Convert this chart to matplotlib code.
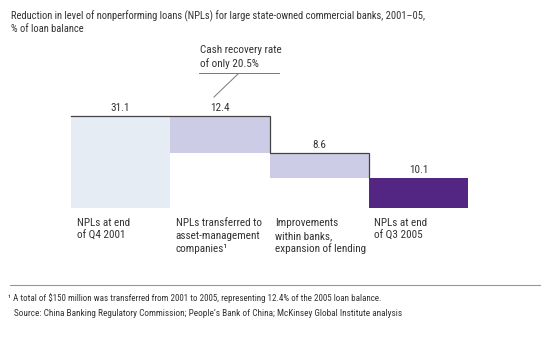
import numpy as np
import matplotlib
matplotlib.use("Agg")
import matplotlib.pyplot as plt
from matplotlib.lines import Line2D
from matplotlib import font_manager as fm

_have = {f.name for f in fm.fontManager.ttflist}
_want = ["Roboto Condensed", "IBM Plex Sans Condensed", "Archivo Narrow",
         "Liberation Sans Narrow", "Encode Sans Condensed", "Pragati Narrow"]
plt.rcParams["font.family"] = [f for f in _want if f in _have][:1] + ["DejaVu Sans"]

# data
categories = ["NPLs at end\nof Q4 2001",
              "NPLs transferred to\nasset-management\ncompanies\u00b9",
              "Improvements\nwithin banks,\nexpansion of lending",
              "NPLs at end\nof Q3 2005"]
values = [31.1, 12.4, 8.6, 10.1]
kinds = ["total", "drop", "drop", "total"]

BAR_CLRS = ["#e6ecf4", "#cccce6", "#cccce6", "#542683"]
TEXT_CLR = "#333333"
LINE_CLR = "#444444"

W, H = 545, 352
fig = plt.figure(figsize=(W / 100, H / 100), dpi=100)
fig.patch.set_facecolor("white")

# axes placed in pixels: x 71..468, y (from top) 116..208
ax = fig.add_axes([71 / W, (H - 208) / H, (468 - 71) / W, (208 - 116) / H])
ax.set_xlim(-0.5, len(values) - 0.5)
ax.set_ylim(0, values[0])
ax.axis("off")

# waterfall bottoms
bottoms, tops = [], []
level = 0.0
for v, k in zip(values, kinds):
    if k == "total":
        bottoms.append(0.0)
        level = v
    else:
        bottoms.append(level - v)
        level -= v
    tops.append(bottoms[-1] + v)

x = np.arange(len(values))
ax.bar(x, values, width=1.0, bottom=bottoms, color=BAR_CLRS,
       edgecolor="none", zorder=1)

# step line along the tops
sx, sy = [x[0] - 0.5], [tops[0]]
for i in range(1, len(values) - 1):
    sx += [x[i] + 0.5, x[i] + 0.5]
    sy += [tops[i], bottoms[i]]
ax.plot(sx, sy, color=LINE_CLR, lw=0.9, zorder=3, clip_on=False,
        solid_joinstyle="miter")

# value labels
for xi, t, v in zip(x, tops, values):
    ax.annotate(f"{v:.1f}", xy=(xi, t), xytext=(0, 2), textcoords="offset points",
                ha="center", va="bottom", fontsize=8, color=TEXT_CLR,
                annotation_clip=False)

# category labels
for xi, lab in zip(x, categories):
    ax.annotate(lab, xy=(xi - 0.5, 0), xytext=(4, -7.5), textcoords="offset points",
                ha="left", va="top", fontsize=8, color=TEXT_CLR,
                linespacing=1.3, annotation_clip=False)

# callout
fig.text(200 / W, 1 - 45 / H, "Cash recovery rate\nof only 20.5%", ha="left",
         va="top", fontsize=8, color=TEXT_CLR, linespacing=1.3)
fig.add_artist(Line2D([199 / W, 279 / W], [1 - 73 / H, 1 - 73 / H],
                      color="#777777", lw=0.7))
fig.add_artist(Line2D([238 / W, 214 / W], [1 - 74 / H, 1 - 97 / H],
                      color="#777777", lw=0.7))

# title
fig.text(11 / W, 1 - 10 / H,
         "Reduction in level of nonperforming loans (NPLs) for large state-owned "
         "commercial banks, 2001\u201305,\n% of loan balance",
         ha="left", va="top", fontsize=7.6, color=TEXT_CLR, linespacing=1.35)

# footer
fig.add_artist(Line2D([10 / W, 540 / W], [1 - 285 / H, 1 - 285 / H],
                      color="#999999", lw=0.8))
fig.text(8 / W, 1 - 298 / H,
         "\u00b9 A total of $150 million was transferred from 2001 to 2005, "
         "representing 12.4% of the 2005 loan balance.",
         ha="left", va="center", fontsize=6.5, color=TEXT_CLR)
fig.text(14 / W, 1 - 314 / H,
         "Source: China Banking Regulatory Commission; People\u2019s Bank of China; "
         "McKinsey Global Institute analysis",
         ha="left", va="center", fontsize=6.65, color=TEXT_CLR)

fig.savefig("out.png", dpi=100, facecolor="white")
